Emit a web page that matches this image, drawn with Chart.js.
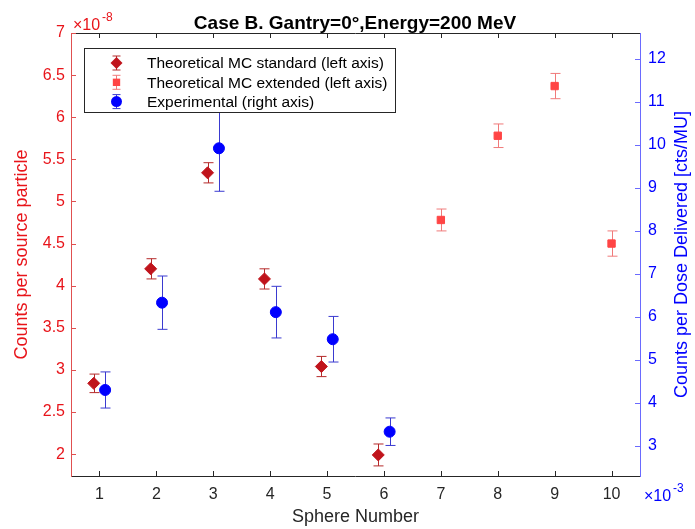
<!DOCTYPE html>
<html>
<head>
<meta charset="utf-8">
<script src="https://cdn.jsdelivr.net/npm/chart.js@4.4.0/dist/chart.umd.min.js"></script>
<style>
  html, body { margin: 0; padding: 0; background: #fff; }
</style>
</head>
<body>
<canvas id="chart" width="695" height="529"></canvas>
<script>
// Data (left axis values in units of 1e-8)
const stdSpheres = [1, 2, 3, 4, 5, 6];
const stdValues = [2.84, 4.20, 5.34, 4.08, 3.04, 1.99];
const stdErrors = [0.11, 0.12, 0.12, 0.12, 0.12, 0.13];

const extSpheres = [7, 8, 9, 10];
const extValues = [4.78, 5.78, 6.37, 4.50];
const extErrors = [0.13, 0.14, 0.15, 0.15];

const expSpheres = [1, 2, 3, 4, 5, 6];
const expValues = [4.30, 6.33, 9.92, 6.11, 5.48, 3.33];
const expErrors = [0.42, 0.62, 1.00, 0.60, 0.53, 0.32];

const xTicks = [1, 2, 3, 4, 5, 6, 7, 8, 9, 10];
const leftTicks = [2, 2.5, 3, 3.5, 4, 4.5, 5, 5.5, 6, 6.5, 7];
const rightTicks = [3, 4, 5, 6, 7, 8, 9, 10, 11, 12];

const FONT = '"Liberation Sans", Arial, Helvetica, sans-serif';
const RED = '#e8141a';
const BLUE = '#0000ff';
const DARK = '#262626';

// Build scatter points, shifting paired series a little apart
const toPoints = (xs, ys, shift) => xs.map((x, i) => ({ x: x + shift, y: ys[i] }));

const datasets = [
  {
    label: 'Theoretical MC standard (left axis)',
    data: toPoints(stdSpheres, stdValues, -0.1),
    errors: stdErrors,
    errColor: '#b52a2a',
    yAxisID: 'y',
    pointStyle: 'rectRot',
    pointRadius: 6,
    backgroundColor: '#c0141c',
    borderColor: '#c0141c'
  },
  {
    label: 'Theoretical MC extended (left axis)',
    data: toPoints(extSpheres, extValues, 0),
    errors: extErrors,
    errColor: '#f07a7a',
    yAxisID: 'y',
    pointStyle: 'rect',
    pointRadius: 5.2,
    backgroundColor: '#ff4545',
    borderColor: '#ff4545'
  },
  {
    label: 'Experimental (right axis)',
    data: toPoints(expSpheres, expValues, 0.1),
    errors: expErrors,
    errColor: '#3a3ad0',
    yAxisID: 'y2',
    pointStyle: 'circle',
    pointRadius: 5.5,
    backgroundColor: '#0000ff',
    borderColor: '#0000ff'
  }
];

// Small marker helper, used for the legend
const drawMarker = (ctx, style, x, y, r, color) => {
  ctx.fillStyle = color;
  ctx.beginPath();
  if (style === 'rectRot') {
    ctx.moveTo(x, y - r); ctx.lineTo(x + r, y); ctx.lineTo(x, y + r); ctx.lineTo(x - r, y);
  } else if (style === 'rect') {
    const s = r * Math.SQRT1_2;
    ctx.rect(x - s, y - s, 2 * s, 2 * s);
  } else {
    ctx.arc(x, y, r, 0, Math.PI * 2);
  }
  ctx.closePath();
  ctx.fill();
};

const errorBar = (ctx, x, yTop, yBot, cap, color) => {
  ctx.strokeStyle = color;
  ctx.lineWidth = 1;
  ctx.beginPath();
  ctx.moveTo(x, yTop); ctx.lineTo(x, yBot);
  ctx.moveTo(x - cap, yTop); ctx.lineTo(x + cap, yTop);
  ctx.moveTo(x - cap, yBot); ctx.lineTo(x + cap, yBot);
  ctx.stroke();
};

const matlabFrame = {
  id: 'matlabFrame',
  beforeDatasetsDraw(chart) {
    const ctx = chart.ctx;
    const xs = chart.scales.x;
    ctx.save();
    chart.data.datasets.forEach(ds => {
      const ys = chart.scales[ds.yAxisID];
      ds.data.forEach((p, i) => {
        const px = Math.round(xs.getPixelForValue(p.x)) + 0.5;
        const top = ys.getPixelForValue(p.y + ds.errors[i]);
        const bot = ys.getPixelForValue(p.y - ds.errors[i]);
        errorBar(ctx, px, top, bot, 5, ds.errColor);
      });
    });
    ctx.restore();
  },
  afterDraw(chart) {
    const ctx = chart.ctx;
    const { left, right, top, bottom } = chart.chartArea;
    const xs = chart.scales.x, yl = chart.scales.y, yr = chart.scales.y2;
    ctx.save();
    ctx.lineWidth = 1;

    // box lines
    ctx.strokeStyle = DARK;
    ctx.beginPath();
    ctx.moveTo(left, top + 0.5); ctx.lineTo(right, top + 0.5);
    ctx.moveTo(left, bottom + 0.5); ctx.lineTo(right, bottom + 0.5);
    xTicks.forEach(v => {
      const px = Math.round(xs.getPixelForValue(v)) + 0.5;
      ctx.moveTo(px, bottom); ctx.lineTo(px, bottom - 5);
      ctx.moveTo(px, top); ctx.lineTo(px, top + 5);
    });
    ctx.stroke();

    ctx.strokeStyle = '#e05050';
    ctx.beginPath();
    ctx.moveTo(left + 0.5, top); ctx.lineTo(left + 0.5, bottom + 1);
    leftTicks.forEach(v => {
      const py = Math.round(yl.getPixelForValue(v)) + 0.5;
      ctx.moveTo(left, py); ctx.lineTo(left + 5, py);
    });
    ctx.stroke();

    ctx.strokeStyle = '#6a6aff';
    ctx.beginPath();
    ctx.moveTo(right + 0.5, top); ctx.lineTo(right + 0.5, bottom + 1);
    rightTicks.forEach(v => {
      const py = Math.round(yr.getPixelForValue(v)) + 0.5;
      ctx.moveTo(right, py); ctx.lineTo(right - 5, py);
    });
    ctx.stroke();

    // title
    ctx.fillStyle = '#000';
    ctx.font = 'bold 19px ' + FONT;
    ctx.textAlign = 'center';
    ctx.textBaseline = 'alphabetic';
    ctx.fillText('Case B. Gantry=0°,Energy=200 MeV', 355, 29);

    // exponent labels
    ctx.textAlign = 'left';
    ctx.fillStyle = RED;
    ctx.font = '16px ' + FONT;
    ctx.fillText('×10', left + 2, 30);
    ctx.font = '12px ' + FONT;
    ctx.fillText('-8', left + 31, 21);
    ctx.fillStyle = BLUE;
    ctx.font = '16px ' + FONT;
    ctx.fillText('×10', right + 4, 501);
    ctx.font = '12px ' + FONT;
    ctx.fillText('-3', right + 33, 492);

    // right axis title, reading bottom to top
    ctx.save();
    ctx.translate(682, (top + bottom) / 2);
    ctx.rotate(-Math.PI / 2);
    ctx.textAlign = 'center';
    ctx.textBaseline = 'middle';
    ctx.fillStyle = BLUE;
    ctx.font = '18px ' + FONT;
    ctx.fillText('Counts per Dose Delivered [cts/MU]', 0, 0);
    ctx.restore();

    // legend
    const lx = 84.5, ly = 48.5, lw = 311, lh = 64;
    ctx.fillStyle = '#fff';
    ctx.fillRect(lx, ly, lw, lh);
    ctx.strokeStyle = DARK;
    ctx.strokeRect(lx, ly, lw, lh);
    ctx.font = '15.5px ' + FONT;
    ctx.textAlign = 'left';
    ctx.textBaseline = 'middle';
    chart.data.datasets.forEach((ds, i) => {
      const cy = 63 + i * 19.3;
      errorBar(ctx, 116.5, cy - 7, cy + 7, 4, ds.errColor);
      drawMarker(ctx, ds.pointStyle, 116.5, cy, ds.pointRadius, ds.backgroundColor);
      ctx.fillStyle = '#000';
      ctx.fillText(ds.label, 147, cy + 1);
    });
    ctx.restore();
  }
};

new Chart(document.getElementById('chart'), {
  type: 'scatter',
  data: { datasets },
  options: {
    responsive: false,
    animation: false,
    devicePixelRatio: 1,
    layout: { padding: { top: 33, left: 0, right: 0, bottom: 0 } },
    plugins: {
      legend: { display: false },
      tooltip: { enabled: false }
    },
    scales: {
      x: {
        type: 'linear',
        min: 0.5,
        max: 10.5,
        afterBuildTicks: s => { s.ticks = xTicks.map(v => ({ value: v })); },
        afterFit: s => { s.height = 53; },
        grid: { display: false, drawTicks: false },
        border: { display: false },
        ticks: { color: DARK, font: { family: FONT, size: 16 }, padding: 9, maxRotation: 0, callback: v => String(v) },
        title: { display: true, text: 'Sphere Number', color: DARK, font: { family: FONT, size: 18 }, padding: { top: 0, bottom: 1 } }
      },
      y: {
        position: 'left',
        min: 1.74,
        max: 7,
        afterBuildTicks: s => { s.ticks = leftTicks.map(v => ({ value: v })); },
        afterFit: s => { s.width = 71; },
        grid: { display: false, drawTicks: false },
        border: { display: false },
        ticks: { color: RED, font: { family: FONT, size: 16 }, padding: 6, callback: v => String(v) },
        title: { display: true, text: 'Counts per source particle', color: RED, font: { family: FONT, size: 18 }, padding: { top: 11, bottom: 4 } }
      },
      y2: {
        position: 'right',
        min: 2.3,
        max: 12.6,
        afterBuildTicks: s => { s.ticks = rightTicks.map(v => ({ value: v })); },
        afterFit: s => { s.width = 55; },
        grid: { display: false, drawTicks: false },
        border: { display: false },
        ticks: { color: BLUE, font: { family: FONT, size: 16 }, padding: 8, callback: v => String(v) }
      }
    }
  },
  plugins: [matlabFrame]
});
</script>
</body>
</html>
